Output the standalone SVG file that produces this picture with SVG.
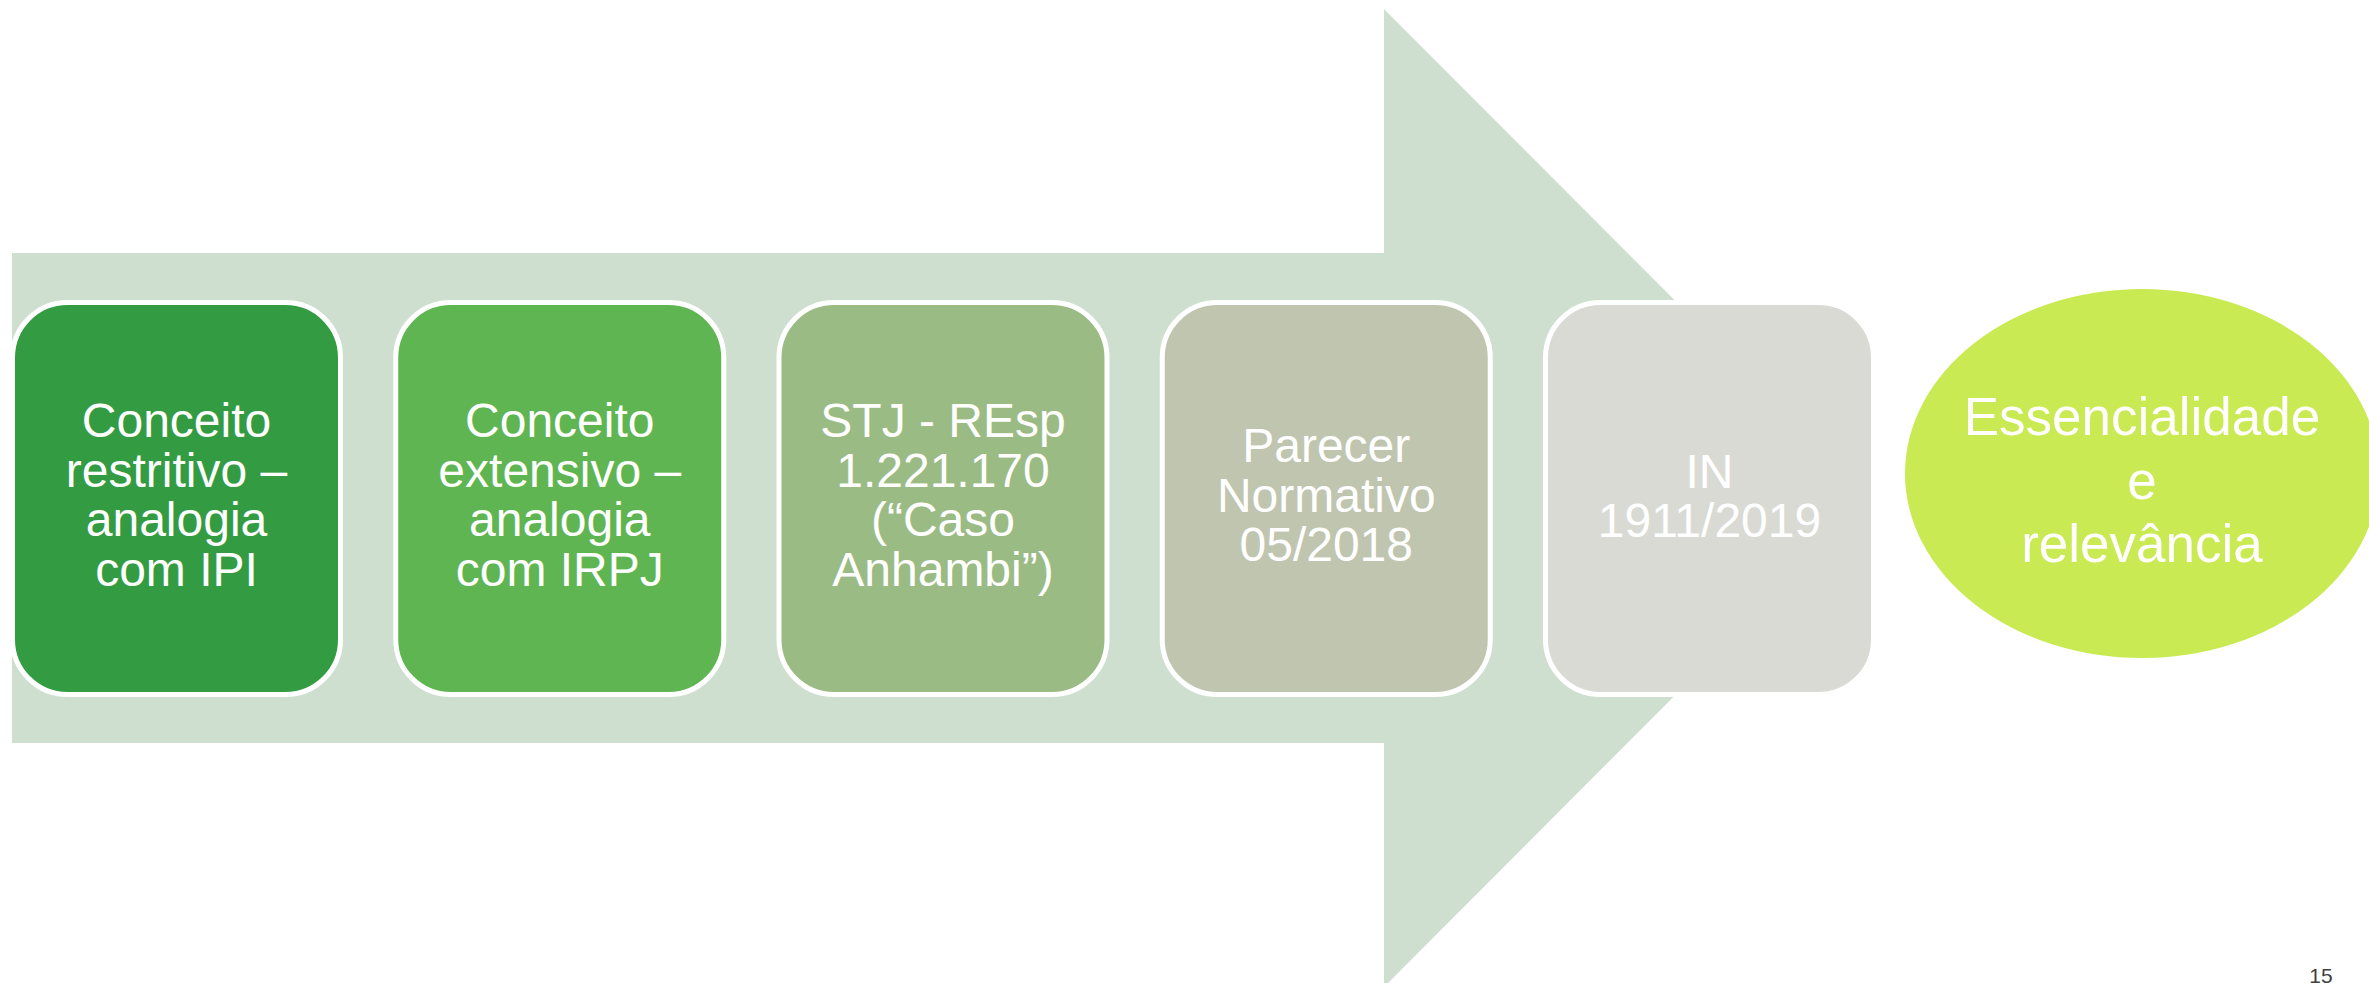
<svg xmlns="http://www.w3.org/2000/svg" width="2369" height="983" viewBox="0 0 2369 983">
  <style>
    .box { stroke: #FFFFFF; stroke-width: 5; }
    .t { font-family: "Liberation Sans", Arial, sans-serif; font-size: 48px; fill: #FFFFFF; text-anchor: middle; }
    .te { font-family: "Liberation Sans", Arial, sans-serif; font-size: 53px; fill: #FFFFFF; text-anchor: middle; }
    .pg { font-family: "Liberation Sans", Arial, sans-serif; font-size: 21px; fill: #404040; text-anchor: middle; }
  </style>
  <rect width="2369" height="983" fill="#FFFFFF"/>
  <g id="arrow">
    <polygon points="12,253 1384,253 1384,9 1872,498 1384,987 1384,743 12,743" fill="#CEDFD0"/>
  </g>
  <g id="connectors"></g>
  <g id="node1">
    <rect class="box" x="12.5" y="302.5" width="328" height="392" rx="55" ry="55" fill="#339B42"/>
    <text class="t" x="176.5" y="437">Conceito</text>
    <text class="t" x="176.5" y="486.5">restritivo –</text>
    <text class="t" x="176.5" y="536">analogia</text>
    <text class="t" x="176.5" y="585.5">com IPI</text>
  </g>
  <g id="node2">
    <rect class="box" x="395.75" y="302.5" width="328" height="392" rx="55" ry="55" fill="#5FB551"/>
    <text class="t" x="559.75" y="437">Conceito</text>
    <text class="t" x="559.75" y="486.5">extensivo –</text>
    <text class="t" x="559.75" y="536">analogia</text>
    <text class="t" x="559.75" y="585.5">com IRPJ</text>
  </g>
  <g id="node3">
    <rect class="box" x="779" y="302.5" width="328" height="392" rx="55" ry="55" fill="#9BBB85"/>
    <text class="t" x="943" y="437">STJ - REsp</text>
    <text class="t" x="943" y="486.5">1.221.170</text>
    <text class="t" x="943" y="536">(“Caso</text>
    <text class="t" x="943" y="585.5">Anhambi”)</text>
  </g>
  <g id="node4">
    <rect class="box" x="1162.25" y="302.5" width="328" height="392" rx="55" ry="55" fill="#C0C5AF"/>
    <text class="t" x="1326.25" y="462">Parecer</text>
    <text class="t" x="1326.25" y="511.5">Normativo</text>
    <text class="t" x="1326.25" y="561">05/2018</text>
  </g>
  <g id="node5">
    <rect class="box" x="1545.5" y="302.5" width="328" height="392" rx="55" ry="55" fill="#D9DAD4"/>
    <text class="t" x="1709.5" y="487.5">IN</text>
    <text class="t" x="1709.5" y="537">1911/2019</text>
  </g>
  <g id="node6">
    <ellipse cx="2142" cy="473.5" rx="237" ry="184.5" fill="#C9EA52"/>
    <text class="te" x="2142" y="435">Essencialidade</text>
    <text class="te" x="2142" y="498.5">e</text>
    <text class="te" x="2142" y="562">relevância</text>
  </g>
  <text class="pg" x="2321" y="983">15</text>
</svg>
